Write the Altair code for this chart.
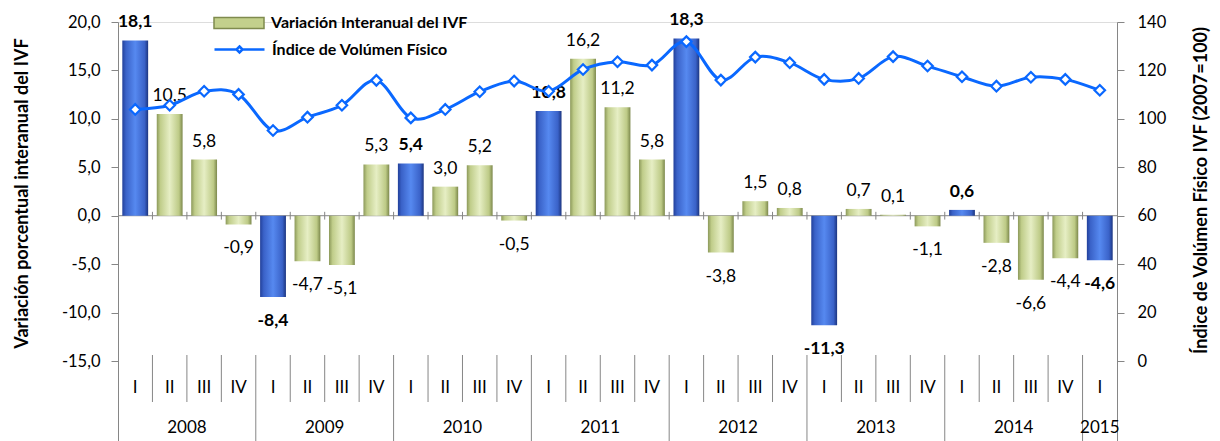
import altair as alt
import pandas as pd

years = ["2008", "2009", "2010", "2011", "2012", "2013", "2014", "2015"]
quarter_names = ["I", "II", "III", "IV"]
variacion = [18.1, 10.5, 5.8, -0.9,
             -8.4, -4.7, -5.1, 5.3,
             5.4, 3.0, 5.2, -0.5,
             10.8, 16.2, 11.2, 5.8,
             18.3, -3.8, 1.5, 0.8,
             -11.3, 0.7, 0.1, -1.1,
             0.6, -2.8, -6.6, -4.4,
             -4.6]
indice = [103.9, 105.6, 111.4, 110.1,
          95.2, 100.7, 105.6, 115.9,
          100.4, 103.9, 111.2, 115.6,
          111.4, 120.4, 123.6, 122.2,
          131.9, 116.0, 125.5, 123.2,
          116.3, 116.7, 125.7, 121.8,
          117.4, 113.5, 117.2, 116.3,
          111.8]
serie_bar = "Variación Interanual del IVF"
serie_line = "Índice de Volúmen Físico"

rows = []
for i, (v, ix) in enumerate(zip(variacion, indice)):
    y = years[i // 4]
    q = quarter_names[i % 4]
    rows.append({"key": f"{y}-{q}", "year": y, "quarter": q, "var": v, "idx": ix,
                 "lbl": f"{v:.1f}".replace(".", ",")})
df = pd.DataFrame(rows)
order = list(df["key"])

W, H = 999, 430
step = W / len(order)
half = step / 2
GRAY = "#868686"
FONT = "Lato"

xenc = alt.X("key:N", sort=order,
             scale=alt.Scale(paddingInner=0.25, paddingOuter=0.125),
             axis=alt.Axis(title=None, domain=False, ticks=False, labelAngle=0,
                           labelExpr="split(datum.value, '-')[1]",
                           labelFont=FONT, labelFontSize=17, labelColor="black",
                           labelBaseline="middle", labelPadding=0, offset=-65))

yleft = alt.Y("var:Q",
              scale=alt.Scale(domain=[20 - H * 35 / 339, 20], nice=False, zero=False),
              axis=alt.Axis(title="Variación porcentual interanual del IVF",
                            values=[-15, -10, -5, 0, 5, 10, 15, 20],
                            labelExpr="replace(replace(format(datum.value, '.1f'), '.', ','), '\u2212', '-')",
                            domainColor=GRAY, tickColor=GRAY, tickSize=7, labelPadding=11,
                            labelFont=FONT, labelFontSize=16.5, labelColor="black",
                            grid=False,
                            titleFont=FONT, titleFontSize=18, titleFontWeight="bold",
                            titleColor="black", titleAngle=270, titleX=-96, titleY=171,
                            titleAlign="center", titleBaseline="middle"))

base = alt.Chart(df)


def grad(stops):
    return alt.Gradient(gradient="linear", x1=0, x2=1, y1=0, y2=0,
                        stops=[alt.GradientStop(offset=o, color=c) for o, c in stops])


blue = grad([(0, "#22409A"), (0.14, "#3A62C8"), (0.5, "#5689F0"), (0.86, "#3A62C8"), (1, "#1C3580")])
green = grad([(0, "#8C995A"), (0.14, "#C0CD8A"), (0.5, "#E6EEC4"), (0.86, "#BDCA86"), (1, "#7C884C")])

zero_line = base.transform_filter("datum.key == '2008-I'").mark_rule(color=GRAY, strokeWidth=1).encode(
    x=alt.value(0), x2=alt.value(W), y=alt.datum(0))
zero_ticks = base.transform_filter("datum.key != '2008-I'").mark_rule(
    color=GRAY, strokeWidth=1, xOffset=-half).encode(x=xenc, y=alt.datum(-0.4), y2=alt.datum(0.4))

bars_blue = base.transform_filter("datum.quarter == 'I'").mark_bar(fill=blue).encode(
    x=xenc, y=yleft, y2=alt.datum(0))
bars_green = base.transform_filter("datum.quarter != 'I'").mark_bar(fill=green).encode(
    x=xenc, y=yleft, y2=alt.datum(0))

labels = []
for cond_q, weight in (("datum.quarter == 'I'", "bold"), ("datum.quarter != 'I'", "normal")):
    for cond_s, dy in (("datum.var >= 0", -18), ("datum.var < 0", 24)):
        labels.append(
            base.transform_filter(f"({cond_q}) && ({cond_s})").mark_text(
                font=FONT, fontSize=17.5, fontWeight=weight, color="black", dy=dy,
                baseline="middle").encode(x=xenc, y=yleft, text="lbl:N"))

sep_q = base.transform_filter("datum.quarter != 'I'").mark_rule(
    color=GRAY, strokeWidth=1, xOffset=-half).encode(x=xenc, y=alt.value(333), y2=alt.value(380))
sep_y = base.transform_filter("datum.quarter == 'I' && datum.key != '2008-I'").mark_rule(
    color=GRAY, strokeWidth=1, xOffset=-half).encode(x=xenc, y=alt.value(333), y2=alt.value(H))

year_lbl = base.transform_filter("datum.quarter == 'II'").mark_text(
    font=FONT, fontSize=17, color="black", xOffset=half, baseline="middle").encode(
    x=xenc, y=alt.value(406), text="year:N")
year_last = base.transform_filter("datum.key == '2015-I'").mark_text(
    font=FONT, fontSize=17, color="black", baseline="middle").encode(
    x=xenc, y=alt.value(406), text="year:N")

leg_bar = base.transform_filter("false").transform_calculate(s=f"'{serie_bar}'").mark_bar().encode(
    fill=alt.Fill("s:N", scale=alt.Scale(domain=[serie_bar], range=["#C3D08C"]),
                  legend=alt.Legend(title=None, orient="none", legendX=95, legendY=-25,
                                    symbolType="M-1,-0.22H1V0.22H-1Z", symbolSize=2500,
                                    symbolStrokeColor="#7F8B4E", symbolStrokeWidth=1.5,
                                    labelFont=FONT, labelFontSize=16, labelFontWeight="bold",
                                    labelColor="black", labelOffset=6, labelLimit=500, padding=0)))
leg_line = base.transform_filter("false").transform_calculate(s2=f"'{serie_line}'").mark_line().encode(
    stroke=alt.Stroke("s2:N", scale=alt.Scale(domain=[serie_line], range=["#0A68FF"]),
                      legend=alt.Legend(title=None, orient="none", legendX=95, legendY=1,
                                        symbolType="M-1,0H-0.12M0.12,0H1M0,-0.12L0.12,0L0,0.12L-0.12,0Z",
                                        symbolSize=2500, symbolStrokeWidth=2.5,
                                        symbolFillColor="white",
                                        labelFont=FONT, labelFontSize=16, labelFontWeight="bold",
                                        labelColor="black", labelOffset=6, labelLimit=500, padding=0)))

left = alt.layer(zero_line, zero_ticks, bars_blue, bars_green, *labels,
                 sep_q, sep_y, year_lbl, year_last, leg_bar, leg_line)

yright = alt.Y("idx:Q",
               scale=alt.Scale(domain=[140 - H * 140 / 339, 140], nice=False, zero=False),
               axis=alt.Axis(orient="right", title="Índice de Volúmen Físico IVF (2007=100)",
                             values=[0, 20, 40, 60, 80, 100, 120, 140],
                             domainColor=GRAY, tickColor=GRAY, tickSize=7, labelPadding=13,
                             labelFont=FONT, labelFontSize=16.5, labelColor="black", grid=False,
                             titleFont=FONT, titleFontSize=18, titleFontWeight="bold",
                             titleColor="black", titleAngle=270, titleX=84, titleY=168,
                             titleAlign="center", titleBaseline="middle"))

line = base.mark_line(color="#0A68FF", strokeWidth=3, interpolate="cardinal").encode(x=xenc, y=yright)
pts = base.mark_point(shape="diamond", size=110, filled=True, fill="white", stroke="#0A68FF",
                      strokeWidth=2.2, opacity=1).encode(x=xenc, y=yright)
right = alt.layer(line, pts)

chart = alt.layer(left, right).resolve_scale(y="independent").properties(
    width=W, height=H,
    autosize=alt.AutoSizeParams(type="none"),
    padding={"left": 110, "top": 14, "right": 95, "bottom": 0},
).configure_view(stroke=None).configure(background="white")

chart.save("out.html", embed_options={"renderer": "svg", "actions": False})
